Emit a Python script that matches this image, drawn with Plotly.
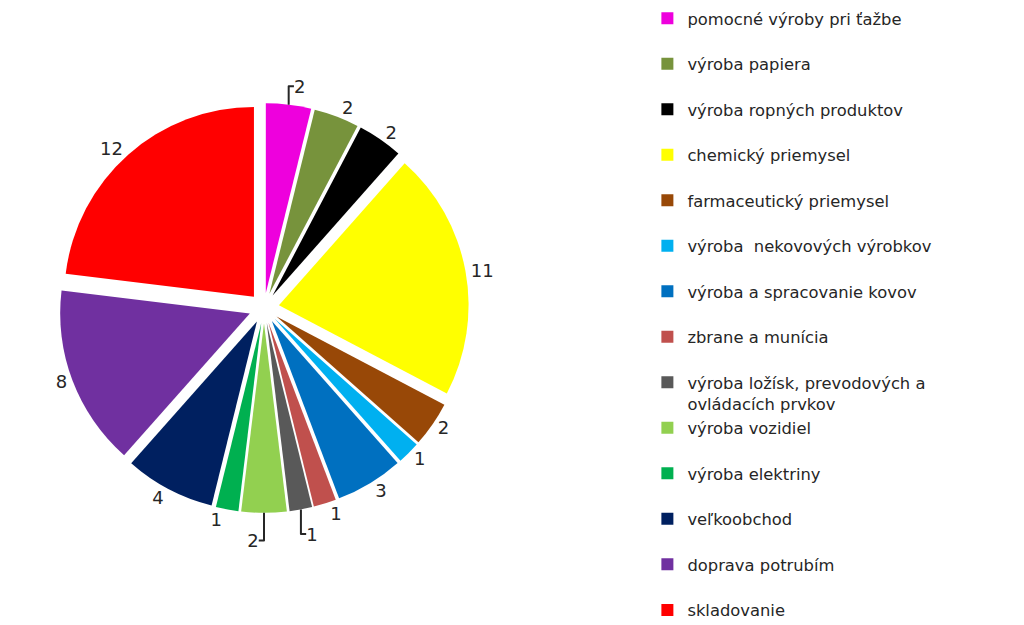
import plotly.graph_objects as go

labels = [
    "pomocné výroby pri ťažbe",
    "výroba papiera",
    "výroba ropných produktov",
    "chemický priemysel",
    "farmaceutický priemysel",
    "výroba  nekovových výrobkov",
    "výroba a spracovanie kovov",
    "zbrane a munícia",
    "výroba ložísk, prevodových a<br>ovládacích prvkov",
    "výroba vozidiel",
    "výroba elektriny",
    "veľkoobchod",
    "doprava potrubím",
    "skladovanie",
]
values = [2, 2, 2, 11, 2, 1, 3, 1, 1, 2, 1, 4, 8, 12]
colors = [
    "#EE00DD", "#77933C", "#000000", "#FFFF00", "#984807", "#00B0F0",
    "#0070C0", "#C0504D", "#595959", "#92D050", "#00B050", "#002060",
    "#7030A0", "#FF0000",
]

# legend labels: pad single-line entries to two lines for Excel-like spacing
legend_labels = [l if "<br>" in l else l + "<br> " for l in labels]
legend_labels[-1] = labels[-1]

fig = go.Figure(
    go.Pie(
        labels=legend_labels,
        values=values,
        sort=False,
        direction="clockwise",
        rotation=0,
        pull=[0.08] * len(values),
        marker=dict(colors=colors, line=dict(color="white", width=0)),
        textinfo="value",
        textposition="outside",
        textfont=dict(size=18, color="#262626", family="DejaVu Sans"),
        hoverinfo="label+value",
        domain=dict(x=[0.05, 0.45], y=[0.19, 0.85]),
    )
)

fig.update_layout(
    width=1024,
    height=625,
    paper_bgcolor="white",
    plot_bgcolor="white",
    margin=dict(l=0, r=0, t=0, b=0, autoexpand=False),
    showlegend=True,
    legend=dict(
        x=0.6244,
        y=1.011,
        xanchor="left",
        yanchor="top",
        valign="top",
        maxheight=800,
        font=dict(size=16.35, color="#262626", family="DejaVu Sans"),
        bgcolor="rgba(0,0,0,0)",
        itemclick=False,
    ),
)

fig.write_html("out.html")
